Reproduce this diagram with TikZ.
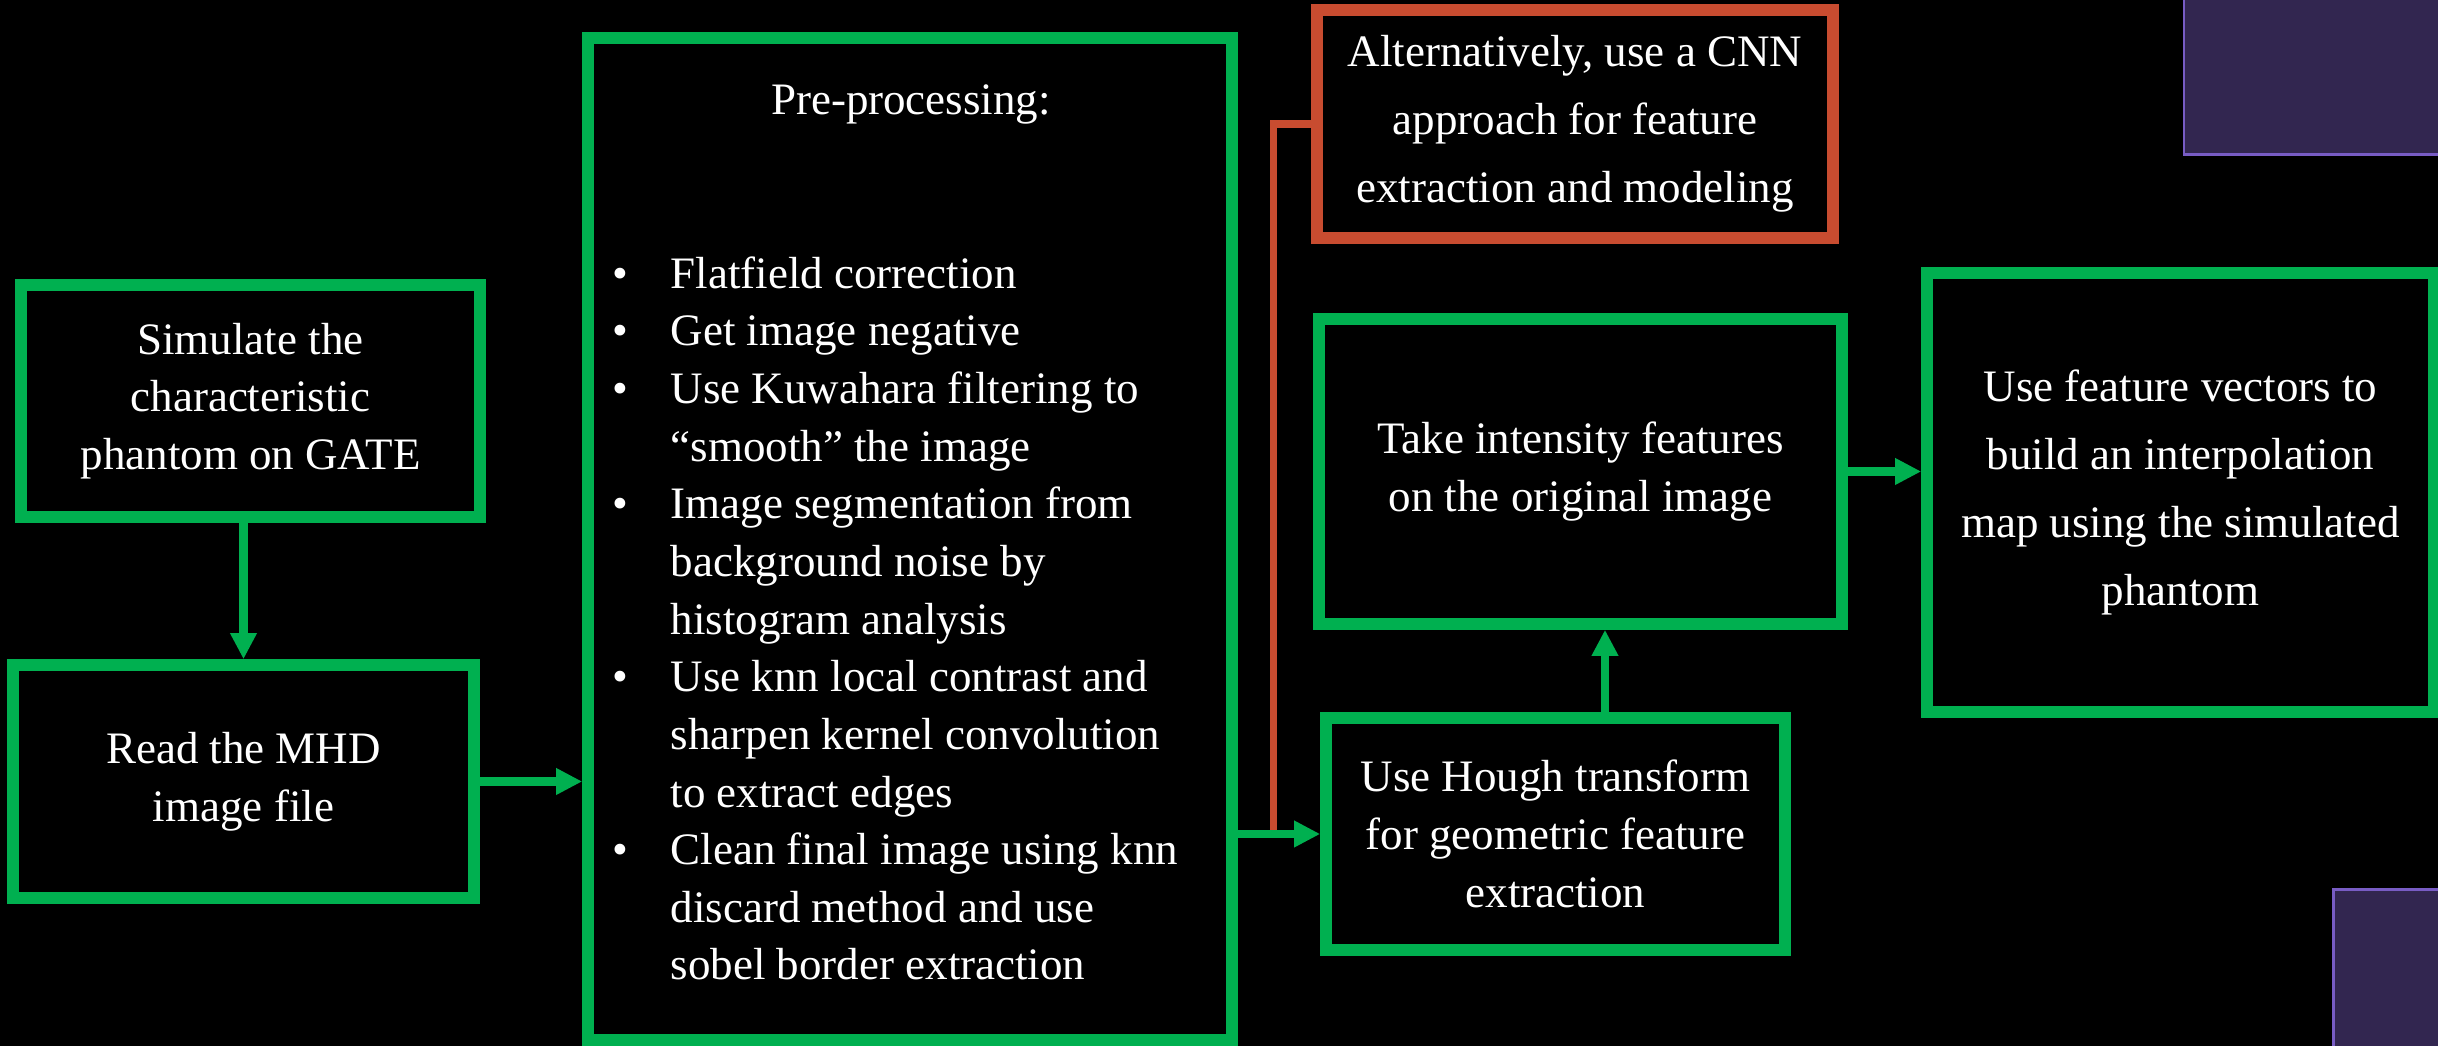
\documentclass[tikz,border=0pt]{standalone}
\usepackage{fontspec}
\setmainfont{Liberation Serif}
\usetikzlibrary{arrows.meta, positioning, calc}
\definecolor{flowgreen}{RGB}{0, 176, 80}
\definecolor{altred}{RGB}{200, 76, 48}
\definecolor{panelfill}{RGB}{50, 38, 80}
\definecolor{paneledge}{RGB}{120, 92, 196}
\newcommand{\itembul}{\makebox[0.58cm][l]{\textbullet}}
\newcommand{\itemgap}{\hspace*{0.58cm}}

\begin{document}
\begin{tikzpicture}[
	>=Stealth,
	font=\fontsize{12.8}{16.4}\selectfont,
	% Styles for the process boxes and the connectors
	stepbox/.style={draw=flowgreen, line width=3.3pt, fill=black, text=white, align=center, inner sep=0pt},
	altbox/.style={draw=altred, line width=3.4pt, fill=black, text=white, align=center, inner sep=0pt},
	widelines/.style={font=\fontsize{12.8}{19.4}\selectfont},
	flow/.style={draw=flowgreen, line width=2.4pt, -{Triangle[length=0.26cm, width=0.25cm]}},
	altlink/.style={draw=altred, line width=2pt},
	panel/.style={draw=paneledge, line width=0.8pt, fill=panelfill}
	]
	
	% Slide background and page size
	\fill[black] (0,0) rectangle (24.38,-10.46);
	\useasboundingbox (0,0) rectangle (24.38,-10.46);
	
	% Decorative panels at the right edge
	\draw[panel] (21.84,0.1) rectangle (24.5,-1.545);
	\draw[panel] (23.335,-8.895) rectangle (24.5,-10.6);
	
	% ==========================================
	% 1. SIMULATION AND INPUT
	% ==========================================
	\node[stepbox, minimum width=4.59cm, minimum height=2.32cm] (sim) at (2.505,-4.01)
		{Simulate the\\characteristic\\phantom on GATE};
	\node[stepbox, minimum width=4.61cm, minimum height=2.33cm] (read) at (2.435,-7.815)
		{Read the MHD\\image file};
	
	% ==========================================
	% 2. PRE-PROCESSING
	% ==========================================
	\node[stepbox, minimum width=6.44cm, minimum height=10.02cm] (pre) at (9.10,-5.39) {};
	\node[anchor=base, text=white] (pretitle) at (9.11,-1.15) {Pre-processing:};
	% base of a multi-line node is the last line
	\node[anchor=base west, text=white, align=left, inner sep=0pt] (prelist) at (6.12,-9.80)
		{\itembul Flatfield correction\\
		\itembul Get image negative\\
		\itembul Use Kuwahara filtering to\\
		\itemgap ``smooth'' the image\\
		\itembul Image segmentation from\\
		\itemgap background noise by\\
		\itemgap histogram analysis\\
		\itembul Use knn local contrast and\\
		\itemgap sharpen kernel convolution\\
		\itemgap to extract edges\\
		\itembul Clean final image using knn\\
		\itemgap discard method and use\\
		\itemgap sobel border extraction};
	
	% ==========================================
	% 3. FEATURE EXTRACTION
	% ==========================================
	\node[altbox, widelines, minimum width=5.16cm, minimum height=2.28cm] (cnn) at (15.75,-1.24)
		{Alternatively, use a CNN\\approach for feature\\extraction and modeling};
	\node[stepbox, minimum width=5.23cm, minimum height=3.05cm] (feat) at (15.805,-4.715)
		{Take intensity features\\on the original image};
	\node[stepbox, minimum width=4.59cm, minimum height=2.32cm] (hough) at (15.555,-8.34)
		{Use Hough transform\\for geometric feature\\extraction};
	
	% ==========================================
	% 4. INTERPOLATION MAP
	% ==========================================
	\node[stepbox, widelines, minimum width=5.07cm, minimum height=4.39cm] (interp) at (21.805,-4.925)
		{Use feature vectors to\\build an interpolation\\map using the simulated\\phantom};
	
	% Connectors
	\draw[flow] (sim.south -| read.north) -- (read.north);
	\draw[flow] (read.east) -- (read.east -| pre.west);
	\coordinate (cnnjoin) at ($(pre.east |- hough.west)!0.43!(hough.west)$);
	\draw[altlink] (cnn.west) -| (cnnjoin);
	\draw[flow] (pre.east |- hough.west) -- (hough.west);
	\draw[flow] ([xshift=0.495cm]hough.north) -- ([xshift=0.495cm]hough.north |- feat.south);
	\draw[flow] (feat.east) -- (feat.east -| interp.west);
	
\end{tikzpicture}
\end{document}
